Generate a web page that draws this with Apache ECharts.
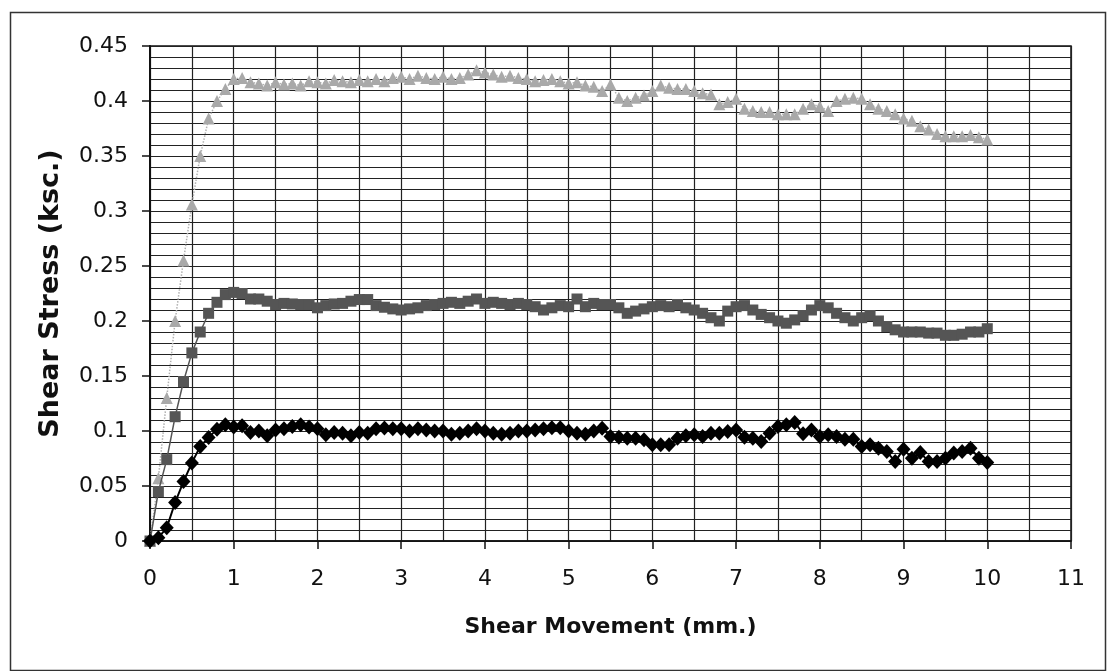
<!DOCTYPE html>
<html>
<head>
<meta charset="utf-8">
<script src="https://cdn.jsdelivr.net/npm/echarts@6/dist/echarts.min.js"></script>
<style>
html,body{margin:0;padding:0;background:#fff;}
#c{width:1108px;height:671px;}
</style>
</head>
<body>
<div id="c"></div>
<script>
// Shear movement (mm.), one reading every 0.1 mm
const movement = Array.from({length: 101}, (_, i) => +(i / 10).toFixed(1));

const stressHigh = [0,0.057,0.13,0.2,0.255,0.306,0.35,0.384,0.4,0.411,0.42,
0.421,0.417,0.416,0.414,0.417,0.415,0.416,0.414,0.418,0.417,
0.416,0.419,0.418,0.417,0.419,0.418,0.42,0.418,0.421,0.422,
0.42,0.423,0.421,0.42,0.422,0.42,0.421,0.424,0.428,0.426,
0.424,0.422,0.423,0.421,0.42,0.418,0.419,0.42,0.418,0.416,
0.417,0.414,0.413,0.409,0.415,0.403,0.4,0.403,0.405,0.409,
0.414,0.412,0.411,0.411,0.409,0.407,0.406,0.397,0.399,0.402,
0.393,0.391,0.39,0.39,0.388,0.388,0.388,0.393,0.397,0.395,
0.391,0.4,0.402,0.403,0.402,0.397,0.393,0.391,0.388,0.384,
0.382,0.377,0.374,0.37,0.368,0.368,0.368,0.369,0.367,0.365];

const stressMid = [0,0.045,0.074,0.113,0.145,0.171,0.19,0.207,0.217,0.224,0.226,
0.225,0.22,0.22,0.218,0.215,0.216,0.2155,0.215,0.215,0.212,
0.214,0.2155,0.216,0.218,0.2195,0.2195,0.214,0.2125,0.211,0.21,
0.211,0.212,0.214,0.215,0.216,0.217,0.216,0.218,0.22,0.216,
0.217,0.216,0.215,0.216,0.215,0.213,0.21,0.212,0.214,0.213,
0.22,0.213,0.216,0.215,0.215,0.212,0.207,0.209,0.211,0.213,
0.214,0.213,0.215,0.212,0.21,0.207,0.203,0.2,0.209,0.213,
0.214,0.21,0.206,0.203,0.2,0.198,0.201,0.205,0.21,0.214,
0.212,0.207,0.203,0.2,0.203,0.205,0.2,0.195,0.192,0.19,
0.19,0.19,0.189,0.189,0.187,0.187,0.188,0.19,0.19,0.193];

const stressLow = [0,0.003,0.012,0.035,0.054,0.071,0.086,0.094,0.1017,0.1057,0.1036,
0.1048,0.0987,0.1,0.0956,0.101,0.102,0.104,0.1057,0.1036,0.102,
0.0966,0.0987,0.098,0.0956,0.0987,0.098,0.102,0.1027,0.102,0.102,
0.1,0.102,0.101,0.1,0.1,0.097,0.098,0.1,0.102,0.1,
0.098,0.097,0.098,0.1,0.1,0.101,0.102,0.103,0.103,0.1,
0.098,0.097,0.1,0.1026,0.095,0.0944,0.0935,0.0935,0.092,0.0874,
0.0874,0.0874,0.0935,0.0956,0.0966,0.095,0.098,0.098,0.0996,0.101,
0.0944,0.0935,0.0905,0.098,0.104,0.1057,0.1078,0.0975,0.101,0.095,
0.0966,0.095,0.0926,0.0926,0.0859,0.0874,0.0844,0.0813,0.0722,0.0835,
0.0753,0.0804,0.0722,0.0722,0.0753,0.08,0.0813,0.0844,0.0753,0.0713];

const xTitle = 'Shear Movement (mm.)';
const yTitle = 'Shear Stress (ksc.)';

const pairs = arr => movement.map((x, i) => [x, arr[i]]);
const font = '"DejaVu Sans", "Liberation Sans", Arial, sans-serif';

const chart = echarts.init(document.getElementById('c'), null, {renderer: 'canvas'});
chart.setOption({
  backgroundColor: '#fff',
  animation: false,
  graphic: [{
    type: 'rect', left: 8, top: 10, z: -1,
    shape: {width: 1095, height: 658},
    style: {fill: 'none', stroke: '#333', lineWidth: 1.5}
  }],
  grid: {left: 150, right: 37, top: 46, bottom: 130, show: true, borderColor: '#111', borderWidth: 1.5},
  xAxis: {
    type: 'value', min: 0, max: 11, interval: 1,
    name: xTitle, nameLocation: 'middle', nameGap: 75,
    nameTextStyle: {fontFamily: font, fontWeight: 'bold', fontSize: 22, color: '#111'},
    axisLine: {show: true, onZero: false, lineStyle: {color: '#111', width: 1.5}},
    axisTick: {show: true, inside: false, length: 8, lineStyle: {color: '#111', width: 1.5}},
    axisLabel: {fontFamily: font, fontSize: 22, color: '#111', margin: 27},
    splitLine: {show: true, lineStyle: {color: '#222', width: 1.2}},
    minorTick: {show: false, splitNumber: 2},
    minorSplitLine: {show: true, lineStyle: {color: '#222', width: 1.2}}
  },
  yAxis: {
    type: 'value', min: 0, max: 0.45, interval: 0.05,
    name: yTitle, nameLocation: 'middle', nameGap: 86, nameRotate: 90,
    nameTextStyle: {fontFamily: font, fontWeight: 'bold', fontSize: 27, color: '#111'},
    axisLine: {show: true, lineStyle: {color: '#111', width: 2}},
    axisTick: {show: true, inside: false, length: 8, lineStyle: {color: '#111', width: 1.5}},
    axisLabel: {fontFamily: font, fontSize: 22, color: '#111', margin: 22},
    splitLine: {show: true, lineStyle: {color: '#222', width: 1.2}},
    minorTick: {show: false, splitNumber: 5},
    minorSplitLine: {show: true, lineStyle: {color: '#222', width: 1.2}}
  },
  series: [
    {
      type: 'line', data: pairs(stressHigh), symbol: 'triangle', symbolSize: 12,
      lineStyle: {color: '#b0b0b0', width: 1.5, type: 'dotted'},
      itemStyle: {color: '#a9a9a9', borderWidth: 0}, z: 3
    },
    {
      type: 'line', data: pairs(stressMid), symbol: 'rect', symbolSize: 11,
      lineStyle: {color: '#555', width: 1.5},
      itemStyle: {color: '#555', borderWidth: 0}, z: 4
    },
    {
      type: 'line', data: pairs(stressLow), symbol: 'diamond', symbolSize: [14, 15],
      lineStyle: {color: '#000', width: 2},
      itemStyle: {color: '#000', borderWidth: 0}, z: 5
    }
  ]
});
</script>
</body>
</html>
